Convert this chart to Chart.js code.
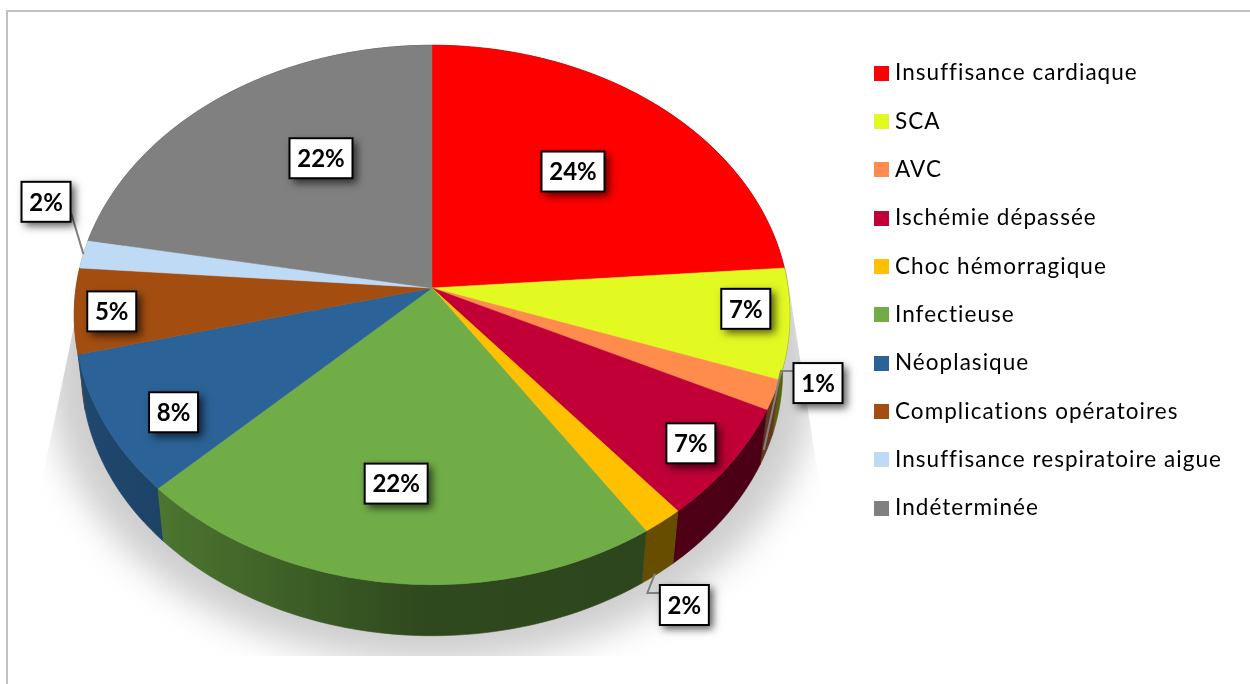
<!DOCTYPE html>
<html lang="fr">
<head>
<meta charset="utf-8">
<title>Causes</title>
<style>html,body{margin:0;padding:0;background:#fff}canvas{display:block}</style>
<script src="https://cdn.jsdelivr.net/npm/chart.js@4"></script>
</head>
<body>
<canvas id="c" width="1250" height="684"></canvas>
<script>
const categories = ["Insuffisance cardiaque","SCA","AVC","Ischémie dépassée","Choc hémorragique","Infectieuse","Néoplasique","Complications opératoires","Insuffisance respiratoire aigue","Indéterminée"];
const sliceValues = [23.8,6.6,1.8,6.8,1.7,22,8.4,5.1,1.7,22.1];
const valueLabels = ["24%","7%","1%","7%","2%","22%","8%","5%","2%","22%"];
const sliceColors = ["#ff0000","#e2f922","#ff8c4c","#c00037","#ffc000","#70ad47","#2b6297","#a34e10","#bfdaf4","#808080"];

// label placement, in the unit disc of the pie
const labelRadius = [0.616,0.878,1.102,0.88,1.236,0.689,0.824,0.896,1.169,0.607];
const labelAngleShift = [-0.6,-2.5,-4.5,0.5,5.7,1.7,-3.5,-0.7,9.2,7.1];
const leaderKind = [null,null,"elbow",null,"elbow",null,null,null,"straight",null];

// perspective of the 3D pie
const view = {cx:432, cy:288, A:356, B:267, k:0.1, depth:57, bottomScale:0.98};
const FONT = '"Lato","Open Sans",sans-serif';
const LEGEND_SPACING = '1.05px';

function project(angle, r, s, d){
  const x = r*Math.cos(angle), y = r*Math.sin(angle), w = 1 - view.k*y;
  return [view.cx + s*view.A*x/w, view.cy + d + s*view.B*y/w];
}
const topFace = (a,r=1)=>project(a,r,1,0);
const botFace = (a,r=1)=>project(a,r,view.bottomScale,view.depth);

function hexRgb(h){return [1,3,5].map(i=>parseInt(h.substr(i,2),16));}
function shade(h,f){return 'rgb('+hexRgb(h).map(v=>Math.round(v*f)).join(',')+')';}

function arcPoints(a0,a1,fn){
  const pts=[], n=Math.max(2,Math.ceil(Math.abs(a1-a0)/(Math.PI/180)));
  for(let i=0;i<=n;i++) pts.push(fn(a0+(a1-a0)*i/n));
  return pts;
}

function drawShadow(ctx){
  ctx.save();
  ctx.beginPath();
  ctx.moveTo(86,268); ctx.lineTo(40,490); ctx.lineTo(40,656);
  ctx.lineTo(830,656); ctx.lineTo(825,520); ctx.lineTo(786,268);
  ctx.closePath(); ctx.clip();
  ctx.filter='blur(17px)';
  ctx.fillStyle='#cecece';
  ctx.beginPath();
  ctx.moveTo(60,240);
  arcPoints(Math.PI*1.08,-Math.PI*0.08,a=>project(a,1,1.072,57)).forEach(p=>ctx.lineTo(p[0],p[1]));
  ctx.lineTo(810,240);
  ctx.closePath();
  ctx.fill();
  ctx.restore();
}

function drawWalls(ctx,arcs,colors){
  const order=arcs.map((e,i)=>i).sort((a,b)=>{
    const m=i=>Math.sin((arcs[i].startAngle+arcs[i].endAngle)/2);
    return m(a)-m(b);
  });
  order.forEach(i=>{
    const e=arcs[i], c=colors[i];
    const g=ctx.createLinearGradient(70,0,800,0);
    g.addColorStop(0,shade(c,0.74));
    g.addColorStop(0.12,shade(c,0.68));
    g.addColorStop(0.48,shade(c,0.42));
    g.addColorStop(1,shade(c,0.39));
    ctx.fillStyle=g; ctx.strokeStyle=g; ctx.lineWidth=0.6;
    const t=arcPoints(e.startAngle,e.endAngle,a=>topFace(a));
    const b=arcPoints(e.endAngle,e.startAngle,a=>botFace(a));
    ctx.beginPath();
    t.concat(b).forEach((p,j)=>j?ctx.lineTo(p[0],p[1]):ctx.moveTo(p[0],p[1]));
    ctx.closePath(); ctx.fill(); ctx.stroke();
  });
}

function drawFaces(ctx,arcs,colors){
  arcs.forEach((e,i)=>{
    ctx.fillStyle=colors[i]; ctx.strokeStyle=colors[i]; ctx.lineWidth=0.5;
    ctx.beginPath();
    ctx.moveTo(view.cx,view.cy);
    arcPoints(e.startAngle,e.endAngle,a=>topFace(a)).forEach(p=>ctx.lineTo(p[0],p[1]));
    ctx.closePath(); ctx.fill(); ctx.stroke();
  });
}

function drawLabels(ctx,arcs){
  const rad=Math.PI/180;
  const boxes=arcs.map((e,i)=>{
    const mid=(e.startAngle+e.endAngle)/2;
    const p=topFace(mid+labelAngleShift[i]*rad,labelRadius[i]);
    const w=valueLabels[i].length>2?64:50, h=41;
    return {mid,cx:p[0],cy:p[1],w,h};
  });
  ctx.save();
  ctx.strokeStyle='#808080'; ctx.lineWidth=2;
  boxes.forEach((b,i)=>{
    const kind=leaderKind[i]; if(!kind) return;
    const left=b.cx-b.w/2, right=b.cx+b.w/2;
    ctx.beginPath();
    if(kind==='elbow'){
      const a=botFace(b.mid);
      ctx.moveTo(a[0]-3,a[1]);
      ctx.lineTo(left-12,b.cy-12);
      ctx.lineTo(left,b.cy-12);
    }else{
      const a=topFace(b.mid);
      ctx.moveTo(a[0],a[1]);
      ctx.lineTo(right,b.cy+11);
    }
    ctx.stroke();
  });
  ctx.restore();
  boxes.forEach((b,i)=>{
    const x=b.cx-b.w/2, y=b.cy-b.h/2;
    ctx.save();
    ctx.shadowColor='rgba(0,0,0,0.65)'; ctx.shadowBlur=8; ctx.shadowOffsetX=4; ctx.shadowOffsetY=4;
    ctx.fillStyle='#fff';
    ctx.fillRect(x,y,b.w,b.h);
    ctx.restore();
    ctx.save();
    ctx.strokeStyle='#000'; ctx.lineWidth=2;
    ctx.strokeRect(x+0.5,y+0.5,b.w-1,b.h-1);
    ctx.fillStyle='#000';
    ctx.font='bold 24px '+FONT;
    ctx.letterSpacing='0px';
    ctx.textAlign='center'; ctx.textBaseline='middle';
    ctx.fillText(valueLabels[i],b.cx,b.cy+1);
    ctx.restore();
  });
}

const pagePlugin={
  id:'page',
  beforeLayout(chart){ chart.ctx.letterSpacing=LEGEND_SPACING; },
  beforeDraw(chart){
    const ctx=chart.ctx;
    ctx.letterSpacing=LEGEND_SPACING;
    ctx.save();
    ctx.fillStyle='#fff'; ctx.fillRect(0,0,1250,684);
    ctx.fillStyle='#c0c0c0';
    ctx.fillRect(6,10,1244,2);
    ctx.fillRect(6,10,2,674);
    ctx.restore();
  }
};

const pie3d={
  id:'pie3d',
  beforeDatasetsDraw(chart){
    const ctx=chart.ctx, arcs=chart.getDatasetMeta(0).data, colors=chart.data.datasets[0].backgroundColor;
    drawShadow(ctx);
    drawWalls(ctx,arcs,colors);
    drawFaces(ctx,arcs,colors);
    drawLabels(ctx,arcs);
    return false;
  }
};

function swatch(color){
  const s=document.createElement('canvas'); s.width=15; s.height=15;
  const x=s.getContext('2d'); x.fillStyle=color; x.fillRect(0,0,15,15);
  return s;
}

new Chart(document.getElementById('c'),{
  type:'pie',
  data:{labels:categories,datasets:[{data:sliceValues,backgroundColor:sliceColors,borderWidth:0}]},
  options:{
    responsive:false,
    animation:false,
    layout:{padding:{top:36,right:18,left:0,bottom:0}},
    events:[],
    plugins:{
      tooltip:{enabled:false},
      legend:{
        position:'right',align:'start',
        labels:{
          usePointStyle:true,pointStyleWidth:4,boxHeight:15,
          padding:25.83,color:'#111',
          font:{family:FONT,size:22.5},
          generateLabels(chart){
            return chart.data.labels.map((t,i)=>({text:t,fillStyle:sliceColors[i],strokeStyle:sliceColors[i],lineWidth:0,pointStyle:swatch(sliceColors[i]),index:i,hidden:false}));
          }
        }
      }
    }
  },
  plugins:[pagePlugin,pie3d]
});
</script>
</body>
</html>
